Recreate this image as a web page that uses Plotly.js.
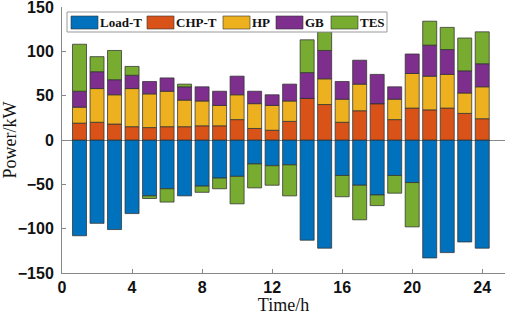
<!DOCTYPE html>
<html>
<head>
<meta charset="utf-8">
<script src="https://cdn.plot.ly/plotly-3.0.1.min.js"></script>
<style>html,body{margin:0;padding:0;background:#fff;}#chart{width:505px;height:315px;}</style>
</head>
<body>
<div id="chart"></div>
<script>
const hours = [1,2,3,4,5,6,7,8,9,10,11,12,13,14,15,16,17,18,19,20,21,22,23,24];
const loadT = [-108,-94,-101,-83,-63,-55,-63,-52,-43,-41,-27,-29,-28,-113,-122,-40,-51,-62,-40,-48,-133,-127,-115,-122];
const chpT  = [19,20,18,15,14,15,15,16,16,23,13,11,21,47,40,20,33,41,23,36,34,36,30,24];
const hp    = [18,38,33,43,38,40,30,28,23,28,28,28,23,0,29,26,30,0,23,39,38,38,23,36];
const gb    = [18,19,17,15,14,15,15,16,16,21,14,12,19,29,32,20,27,33,14,22,35,28,25,26];
const tes   = [53,17,33,10,-3,-15,3,-7,-12,-31,-27,-22,-35,37,21,-24,-39,-12,-20,-50,27,25,37,36];

const names = ['Load-T','CHP-T','HP','GB','TES'];
const colors = ['#0072BD','#D95319','#EDB120','#7E2F8E','#77AC30'];
const series = [loadT, chpT, hp, gb, tes];

const traces = series.map((vals, i) => ({
  type: 'bar',
  x: hours,
  y: vals,
  name: names[i],
  width: 0.8,
  showlegend: false,
  marker: {color: colors[i], line: {color: 'rgba(50,50,50,0.75)', width: 1}},
}));

// custom legend (wide swatches like the original), placed in paper coordinates
const M = {l: 62, r: 0, t: 7, b: 42};
const plotW = 505 - M.l - M.r, plotH = 315 - M.t - M.b;
const px = v => (v - M.l) / plotW;
const py = v => (M.t + plotH - v) / plotH;
const swatchX = [71, 147, 223, 276, 331];
const shapes = [{
  type: 'rect', xref: 'paper', yref: 'paper',
  x0: px(67), x1: px(387), y0: py(32), y1: py(12),
  line: {color: '#999', width: 1}, fillcolor: '#fff', layer: 'above'
}];
const annotations = [];
names.forEach((n, i) => {
  shapes.push({
    type: 'rect', xref: 'paper', yref: 'paper',
    x0: px(swatchX[i]), x1: px(swatchX[i] + 27), y0: py(29), y1: py(16),
    line: {color: 'rgba(50,50,50,0.6)', width: 1}, fillcolor: colors[i], layer: 'above'
  });
  annotations.push({
    xref: 'paper', yref: 'paper', x: px(swatchX[i] + 28), y: py(22.5),
    xanchor: 'left', yanchor: 'middle', showarrow: false, text: n, borderpad: 0,
    font: {family: 'Liberation Serif', size: 13, weight: 'bold', color: '#111'}
  });
});

const layout = {
  width: 505, height: 315,
  margin: M,
  barmode: 'relative',
  paper_bgcolor: '#fff', plot_bgcolor: '#fff',
  showlegend: false,
  shapes: shapes,
  annotations: annotations,
  xaxis: {
    range: [0, 25.3], tickvals: [0,4,8,12,16,20,24],
    ticks: 'inside', ticklen: 4, tickcolor: '#888',
    showline: true, linecolor: '#888', linewidth: 1,
    showgrid: false, zeroline: false,
    tickfont: {family: 'Liberation Sans', size: 16, weight: 'bold', color: '#111'},
    ticklabeloverflow: 'allow',
    title: {text: 'Time/h', font: {family: 'Liberation Serif', size: 18, color: '#111'}, standoff: 11},
    automargin: false
  },
  yaxis: {
    range: [-150, 150], tickvals: [-150,-100,-50,0,50,100,150],
    ticks: 'inside', ticklen: 4, tickcolor: '#888',
    showline: true, linecolor: '#888', linewidth: 1,
    showgrid: false, zeroline: true, zerolinecolor: '#888', zerolinewidth: 1,
    tickfont: {family: 'Liberation Sans', size: 16, weight: 'bold', color: '#111'},
    ticklabeloverflow: 'allow',
    ticklabelstandoff: 4,
    title: {text: 'Power/kW', font: {family: 'Liberation Serif', size: 18, color: '#111'}, standoff: 10},
    automargin: false
  }
};

Plotly.newPlot('chart', traces, layout, {displayModeBar: false, staticPlot: true});
</script>
</body>
</html>
